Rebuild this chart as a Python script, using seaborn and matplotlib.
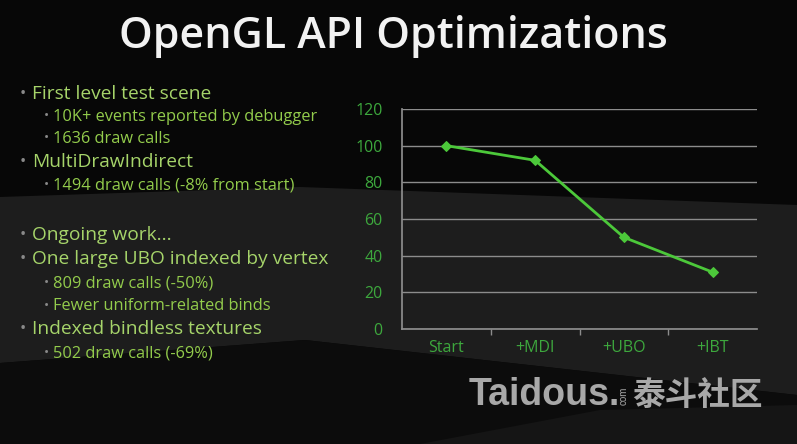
import numpy as np
import pandas as pd
import matplotlib
matplotlib.use("Agg")
import matplotlib.pyplot as plt
import seaborn as sns
from matplotlib.patches import Polygon

# data
steps = ["Start", "+MDI", "+UBO", "+IBT"]
relative_calls = [100, 92, 50, 31]
y_ticks = [0, 20, 40, 60, 80, 100, 120]

bullets = [
    (0, "First level test scene"),
    (1, "10K+ events reported by debugger"),
    (1, "1636 draw calls"),
    (0, "MultiDrawIndirect"),
    (1, "1494 draw calls (-8% from start)"),
    (0, "Ongoing work..."),
    (0, "One large UBO indexed by vertex"),
    (1, "809 draw calls (-50%)"),
    (1, "Fewer uniform-related binds"),
    (0, "Indexed bindless textures"),
    (1, "502 draw calls (-69%)"),
]
bullet_rows = [94, 117, 139, 162, 185, 235, 259, 283, 306, 329, 353]

sns.set_theme(style="dark")
plt.rcParams["font.family"] = ["Open Sans", "Noto Sans CJK SC", "DejaVu Sans"]

W, H = 797, 444
fig = plt.figure(figsize=(W / 100, H / 100), dpi=100)
fig.patch.set_facecolor("#070707")

def px(x, y):
    return (x / W, 1 - y / H)

# background layer (grey swoosh), kept under everything
bg = fig.add_axes([0, 0, 1, 1], zorder=-1)
bg.set_xlim(0, W)
bg.set_ylim(H, 0)
bg.axis("off")
bg.add_patch(Polygon([(0, 197), (300, 187), (797, 205), (797, 395), (305, 340), (0, 363)],
                     closed=True, facecolor="#1d1d1d", edgecolor="none"))
bg.add_patch(Polygon([(0, 363), (305, 340), (797, 395), (797, 444), (0, 444)],
                     closed=True, facecolor="#0c0c0c", edgecolor="none"))
bg.add_patch(Polygon([(420, 444), (600, 410), (797, 405), (797, 444)],
                     closed=True, facecolor="#151515", edgecolor="none"))

# title
fig.text(*px(393, 36), "OpenGL API Optimizations", color="#f2f2f2",
         fontsize=31, fontweight="semibold", ha="center", va="center")

# bullet list
for (level, txt), yy in zip(bullets, bullet_rows):
    if level == 0:
        fig.text(*px(20, yy), "\u2022", color="#8a8a8a", fontsize=12, ha="left", va="center")
        fig.text(*px(32, yy), txt, color="#a6d46a", fontsize=13.8, ha="left", va="center")
    else:
        fig.text(*px(44, yy), "\u2022", color="#8a8a8a", fontsize=10, ha="left", va="center")
        fig.text(*px(53, yy), txt, color="#93cc4c", fontsize=11.8, ha="left", va="center")

# chart
ax = fig.add_axes([402 / W, 1 - 329 / H, 355 / W, 220 / H], zorder=2)
ax.set_facecolor("none")
df = pd.DataFrame({"step": steps, "calls": relative_calls})
sns.lineplot(data=df, x="step", y="calls", ax=ax, color="#4cc83a", lw=2,
             marker="D", markersize=5, markeredgecolor="#4cc83a", sort=False)

ax.set_xlim(-0.5, len(steps) - 0.5)
ax.set_ylim(0, 120)
ax.set_yticks(y_ticks)
ax.set_xticks(range(len(steps)))
ax.set_xticklabels(steps)
ax.set_xticks(np.arange(0.5, len(steps) - 1, 1), minor=True)
ax.set_xlabel("")
ax.set_ylabel("")
ax.grid(axis="y", color="#8c8c8c", lw=1)
ax.grid(axis="x", visible=False)
for s in ["top", "right"]:
    ax.spines[s].set_visible(False)
for s in ["left", "bottom"]:
    ax.spines[s].set_visible(True)
    ax.spines[s].set_color("#8c8c8c")
ax.tick_params(axis="y", colors="#3da83d", labelsize=11.5, length=0, pad=14)
ax.tick_params(axis="x", which="major", colors="#3da83d", labelsize=11.5, length=0, pad=8)
ax.tick_params(axis="x", which="minor", color="#8c8c8c", length=4, width=1, bottom=True)

# watermark
fig.text(*px(469, 395), "Taidous.", color="#a8a8a8", fontsize=27, fontweight="bold",
         ha="left", va="center", family=["Liberation Sans", "DejaVu Sans"])
fig.text(*px(632, 395), "泰斗社区", color="#a8a8a8", fontsize=23.5, fontweight="bold",
         ha="left", va="center", family=["Noto Sans CJK SC", "DejaVu Sans"])
fig.text(*px(624, 396), "com", color="#a8a8a8", fontsize=7, rotation=90,
         ha="center", va="center", family=["Liberation Sans", "DejaVu Sans"])

fig.savefig("out.png", dpi=100, facecolor=fig.get_facecolor())
